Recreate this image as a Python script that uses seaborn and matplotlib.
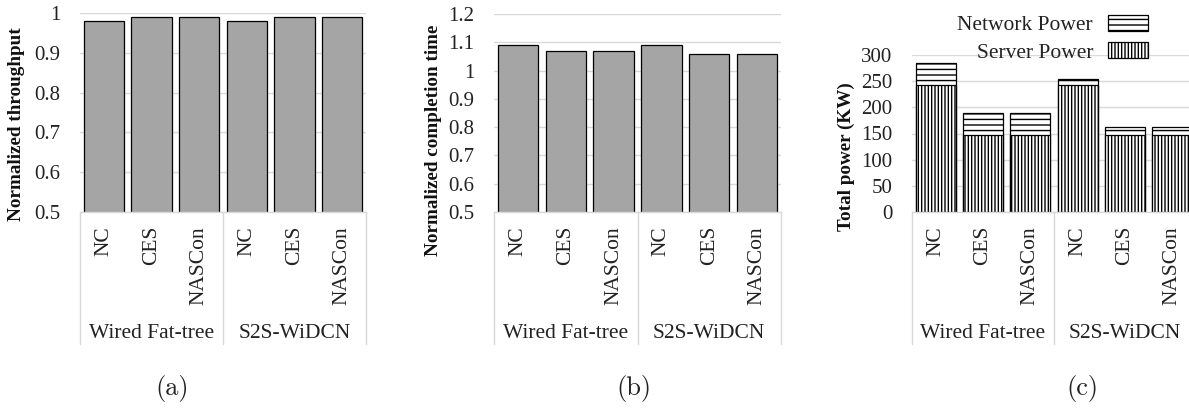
import matplotlib
matplotlib.use("Agg")
import matplotlib.pyplot as plt
from matplotlib.lines import Line2D
from matplotlib.ticker import FuncFormatter
import seaborn as sns
import pandas as pd

# ---- data ----
groups = ["Wired Fat-tree", "S2S-WiDCN"]
methods = ["NC", "CES", "NASCon"]
throughput = [0.98, 0.99, 0.99, 0.98, 0.99, 0.99]
completion = [1.09, 1.07, 1.07, 1.09, 1.06, 1.06]
server_power = [242, 148, 148, 242, 148, 148]
network_power = [43, 42, 42, 12, 14, 14]

keys = [f"{g}|{m}" for g in groups for m in methods]
df = pd.DataFrame({
    "key": keys,
    "method": [m for g in groups for m in methods],
    "throughput": throughput,
    "completion": completion,
    "server": server_power,
    "total": [s + n for s, n in zip(server_power, network_power)],
})

sns.set_theme(style="white")
plt.rcParams["font.family"] = ["Liberation Serif", "DejaVu Serif"]
plt.rcParams["hatch.linewidth"] = 1.0

W, H = 1189, 408
fig = plt.figure(figsize=(W / 100, H / 100), dpi=100)


def px_axes(l, r, top, bottom):
    return fig.add_axes([l / W, 1 - bottom / H, (r - l) / W, (bottom - top) / H])


axA = px_axes(80, 366, 13, 212)
axB = px_axes(494, 781, 14, 212)
axC = px_axes(912, 1196, 55, 212)

GRID = "#d9d9d9"
BAR = "#a5a5a5"
TXT = "#222222"

sns.barplot(data=df, x="key", y="throughput", order=keys, color=BAR, saturation=1,
            edgecolor="black", linewidth=0.9, width=0.84, ax=axA)
sns.barplot(data=df, x="key", y="completion", order=keys, color=BAR, saturation=1,
            edgecolor="black", linewidth=0.9, width=0.84, ax=axB)
sns.barplot(data=df, x="key", y="total", order=keys, color="white", saturation=1,
            edgecolor="black", linewidth=0.9, width=0.84, hatch="---", ax=axC)
sns.barplot(data=df, x="key", y="server", order=keys, color="white", saturation=1,
            edgecolor="black", linewidth=0.9, width=0.84, hatch="|||||", ax=axC)

axA.set_ylim(0.5, 1.0)
axA.set_yticks([0.5, 0.6, 0.7, 0.8, 0.9, 1.0])
axB.set_ylim(0.5, 1.2)
axB.set_yticks([0.5, 0.6, 0.7, 0.8, 0.9, 1.0, 1.1, 1.2])
axC.set_ylim(0, 300)
axC.set_yticks(range(0, 301, 50))

ylabels = ["Normalized throughput", "Normalized completion time", "Total power (KW)"]
label_x = [-0.192, -0.181, -0.20]
label_y = [0.44, 0.36, 0.35]
heights_px = [199, 198, 157]

for ax, yl, lx, ly, hp in zip([axA, axB, axC], ylabels, label_x, label_y, heights_px):
    ax.set_axisbelow(True)
    ax.yaxis.grid(True, color=GRID, linewidth=1.0)
    ax.xaxis.grid(False)
    for s in ["top", "right", "left"]:
        ax.spines[s].set_visible(False)
    ax.spines["bottom"].set_color(GRID)
    ax.spines["bottom"].set_linewidth(1.0)
    ax.set_xlim(-0.5, 5.5)
    ax.yaxis.set_major_formatter(FuncFormatter(lambda v, p: f"{v:g}"))
    ax.tick_params(axis="y", length=0, pad=14, labelsize=15, colors=TXT)
    ax.tick_params(axis="x", length=0, pad=10, labelsize=15.5, colors=TXT)
    ax.set_xticks(range(len(keys)))
    ax.set_xticklabels(df["method"], rotation=90, va="top", ha="center")
    ax.set_xlabel("")
    ax.set_ylabel(yl, fontsize=13.8, fontweight="bold", color="#111111")
    ax.yaxis.set_label_coords(lx, ly)
    # group separators and group labels below category axis
    frac = 132 / hp
    for xs in [-0.5, 2.5, 5.5]:
        ax.add_line(Line2D([xs, xs], [0, -frac], transform=ax.get_xaxis_transform(),
                           color=GRID, linewidth=1.0, clip_on=False))
    for gi, g in enumerate(groups):
        ax.annotate(g, xy=(gi * 3 + 1, 0), xycoords=("data", "axes fraction"),
                    xytext=(0, -121 * 0.72), textcoords="offset points",
                    ha="center", va="center", fontsize=15.5, color=TXT)

# legend for panel (c)
net_handle = axC.containers[0].patches[0]
srv_handle = axC.containers[1].patches[0]
fig.legend([net_handle, srv_handle], ["Network Power", "Server Power"],
           loc="upper right", bbox_to_anchor=(1148 / W, 1 - 15 / H),
           bbox_transform=fig.transFigure, frameon=False, markerfirst=False,
           fontsize=15.5, handlelength=1.85, handleheight=0.75, handletextpad=0.7,
           labelspacing=0.32, borderpad=0, borderaxespad=0, labelcolor=TXT)

for cx, cap in zip([172, 634, 1082], ["(a)", "(b)", "(c)"]):
    fig.text(cx / W, 1 - 388 / H, cap, ha="center", va="center",
             family="cmr10", fontsize=19, color=TXT)

fig.savefig("out.png", dpi=100)
